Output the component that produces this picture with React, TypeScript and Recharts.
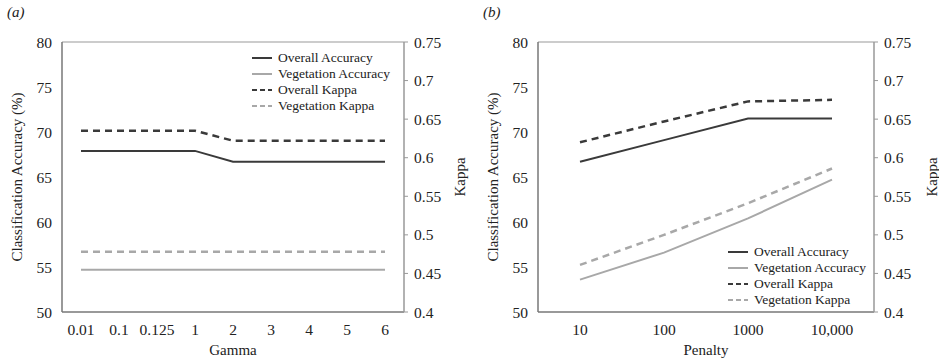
import React from 'react';
import { LineChart, Line, XAxis, YAxis, ReferenceLine } from 'recharts';

const gammaTicks = ['0.01', '0.1', '0.125', '1', '2', '3', '4', '5', '6'];
const gammaOverallAcc = [67.9, 67.9, 67.9, 67.9, 66.7, 66.7, 66.7, 66.7, 66.7];
const gammaVegAcc = [54.7, 54.7, 54.7, 54.7, 54.7, 54.7, 54.7, 54.7, 54.7];
const gammaOverallKappa = [0.635, 0.635, 0.635, 0.635, 0.622, 0.622, 0.622, 0.622, 0.622];
const gammaVegKappa = [0.478, 0.478, 0.478, 0.478, 0.478, 0.478, 0.478, 0.478, 0.478];

const penaltyTicks = ['10', '100', '1000', '10,000'];
const penaltyOverallAcc = [66.7, 69.1, 71.5, 71.5];
const penaltyVegAcc = [53.6, 56.6, 60.4, 64.7];
const penaltyOverallKappa = [0.62, 0.647, 0.673, 0.675];
const penaltyVegKappa = [0.461, 0.5, 0.541, 0.586];

const accTicks = [50, 55, 60, 65, 70, 75, 80];
const kappaTicks = [0.4, 0.45, 0.5, 0.55, 0.6, 0.65, 0.7, 0.75];

const DARK = '#3a3a3a';
const LIGHT = '#a8a8a8';
const FONT = "'Times New Roman', 'Liberation Serif', 'DejaVu Serif', serif";
const DASH = '7 5';

const legendItems = [
  { name: 'Overall Accuracy', color: DARK, dash: undefined },
  { name: 'Vegetation Accuracy', color: LIGHT, dash: undefined },
  { name: 'Overall Kappa', color: DARK, dash: '5 3' },
  { name: 'Vegetation Kappa', color: LIGHT, dash: '5 3' },
];

// legend drawn outside the chart so it doesn't eat into the plot area
function LegendBox({ left, top }: { left: number; top: number }) {
  return (
    <div style={{ position: 'absolute', left, top, fontFamily: FONT, fontSize: 13.5, color: '#222', lineHeight: '16px' }}>
      {legendItems.map((it) => (
        <div key={it.name} style={{ display: 'flex', alignItems: 'center', whiteSpace: 'nowrap' }}>
          <svg width={22} height={16} style={{ marginRight: 5 }}>
            <line x1={1} y1={8} x2={21} y2={8} stroke={it.color} strokeWidth={2} strokeDasharray={it.dash} />
          </svg>
          <span>{it.name}</span>
        </div>
      ))}
    </div>
  );
}

function build(ticks: string[], oa: number[], va: number[], ok: number[], vk: number[]) {
  return ticks.map((t, i) => ({ x: t, oa: oa[i], va: va[i], ok: ok[i], vk: vk[i] }));
}

interface PanelProps {
  data: { x: string; oa: number; va: number; ok: number; vk: number }[];
  width: number;
  leftW: number;
  rightW: number;
  pad: number;
  xLabel: string;
  leftLabelX: number;
  rightLabelX: number;
}

function Panel({ data, width, leftW, rightW, pad, xLabel, leftLabelX, rightLabelX }: PanelProps) {
  const tickStyle = { fill: '#222', fontSize: 15.5, fontFamily: FONT };
  const labelStyle = { fill: '#222', fontSize: 15, fontFamily: FONT };
  return (
    <LineChart width={width} height={360} data={data} margin={{ top: 42, right: 0, bottom: 0, left: 0 }} style={{ fontFamily: FONT }}>
      <XAxis
        dataKey="x"
        height={48}
        padding={{ left: pad, right: pad }}
        tick={tickStyle}
        tickLine={false}
        axisLine={{ stroke: '#777', strokeWidth: 1.5 }}
        tickMargin={6}
        label={{ value: xLabel, position: 'insideBottom', offset: 5, ...labelStyle }}
      />
      <YAxis
        yAxisId="left"
        width={leftW}
        domain={[50, 80]}
        ticks={accTicks}
        tick={tickStyle}
        tickLine={false}
        tickSize={0}
        tickMargin={10}
        axisLine={{ stroke: '#777', strokeWidth: 1.5 }}
        label={{ value: 'Classification Accuracy (%)', angle: -90, position: 'insideLeft', offset: leftLabelX, style: { textAnchor: 'middle' }, ...labelStyle }}
      />
      <YAxis
        yAxisId="right"
        orientation="right"
        width={rightW}
        domain={[0.4, 0.75]}
        ticks={kappaTicks}
        tick={tickStyle}
        tickSize={4}
        tickMargin={6}
        tickLine={{ stroke: '#999' }}
        axisLine={{ stroke: '#999', strokeWidth: 1.5 }}
        label={{ value: 'Kappa', angle: -90, position: 'insideRight', offset: rightLabelX, style: { textAnchor: 'middle' }, ...labelStyle }}
      />
      <ReferenceLine yAxisId="left" y={80} stroke="#999" strokeWidth={1} />
      <Line yAxisId="left" type="linear" dataKey="oa" stroke={DARK} strokeWidth={2} dot={false} isAnimationActive={false} />
      <Line yAxisId="left" type="linear" dataKey="va" stroke={LIGHT} strokeWidth={2} dot={false} isAnimationActive={false} />
      <Line yAxisId="right" type="linear" dataKey="ok" stroke={DARK} strokeWidth={2.5} strokeDasharray={DASH} dot={false} isAnimationActive={false} />
      <Line yAxisId="right" type="linear" dataKey="vk" stroke={LIGHT} strokeWidth={2.5} strokeDasharray={DASH} dot={false} isAnimationActive={false} />
    </LineChart>
  );
}

export default function App() {
  const dataA = build(gammaTicks, gammaOverallAcc, gammaVegAcc, gammaOverallKappa, gammaVegKappa);
  const dataB = build(penaltyTicks, penaltyOverallAcc, penaltyVegAcc, penaltyOverallKappa, penaltyVegKappa);
  return (
    <div style={{ position: 'absolute', left: 0, top: 0, width: 939, height: 360, background: '#fff' }}>
      <div style={{ position: 'absolute', left: 7, top: 4, fontFamily: FONT, fontStyle: 'italic', fontSize: 15, color: '#222' }}>(a)</div>
      <div style={{ position: 'absolute', left: 483, top: 4, fontFamily: FONT, fontStyle: 'italic', fontSize: 15, color: '#222' }}>(b)</div>
      <div style={{ position: 'absolute', left: 0, top: 0 }}>
        <Panel data={dataA} width={470} leftW={62} rightW={66} pad={19} xLabel="Gamma" leftLabelX={17} rightLabelX={10} />
      </div>
      <div style={{ position: 'absolute', left: 470, top: 0 }}>
        <Panel data={dataB} width={469} leftW={68} rightW={65} pad={42} xLabel="Penalty" leftLabelX={23} rightLabelX={7} />
      </div>
      <LegendBox left={251} top={50} />
      <LegendBox left={727} top={244} />
    </div>
  );
}
